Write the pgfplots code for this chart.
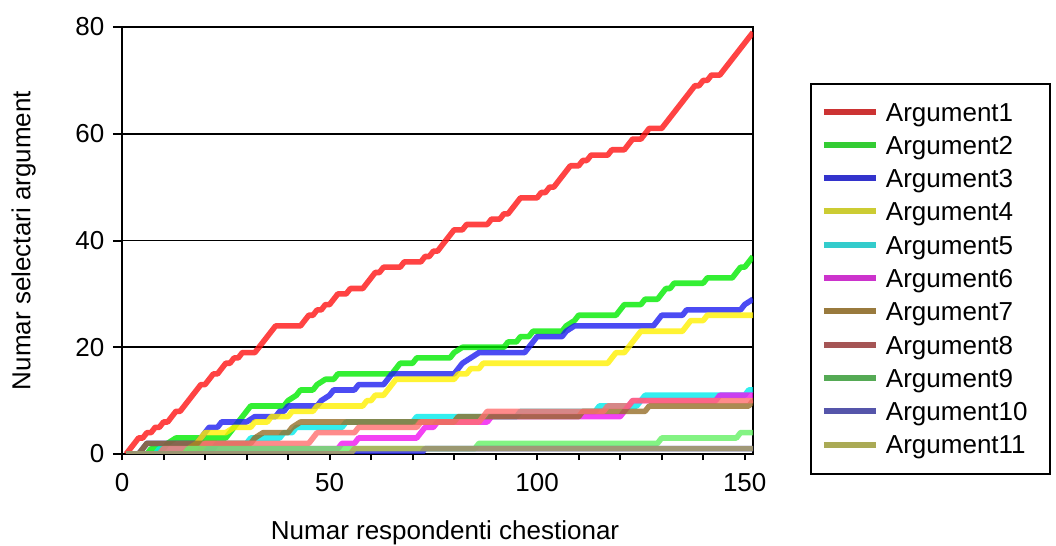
\documentclass[border=0pt]{standalone}
\usepackage{fontspec}
\setmainfont{Liberation Sans}
\usepackage{pgfplots}
\pgfplotsset{compat=1.18}
\definecolor{c1}{RGB}{255,20,20}
\definecolor{c2}{RGB}{0,235,0}
\definecolor{c3}{RGB}{30,30,240}
\definecolor{c4}{RGB}{255,240,0}
\definecolor{c5}{RGB}{0,235,235}
\definecolor{c6}{RGB}{240,20,240}
\definecolor{c7}{RGB}{150,110,40}
\definecolor{c8}{RGB}{255,110,110}
\definecolor{c9}{RGB}{100,240,100}
\definecolor{c10}{RGB}{40,40,230}
\definecolor{c11}{RGB}{180,170,90}
\definecolor{L1}{RGB}{204,51,51}
\definecolor{L2}{RGB}{51,204,51}
\definecolor{L3}{RGB}{51,51,204}
\definecolor{L4}{RGB}{204,204,51}
\definecolor{L5}{RGB}{51,204,204}
\definecolor{L6}{RGB}{204,51,204}
\definecolor{L7}{RGB}{153,122,61}
\definecolor{L8}{RGB}{165,85,85}
\definecolor{L9}{RGB}{85,170,85}
\definecolor{L10}{RGB}{85,85,170}
\definecolor{L11}{RGB}{170,170,85}
\begin{document}
\fontsize{13}{15.6}\selectfont
\begin{tikzpicture}
\path[use as bounding box] (-61pt,-46pt) rectangle (467pt,227pt);
\begin{axis}[
  at={(0,0)}, anchor=south west,
  width=315.5pt, height=213.5pt, scale only axis,
  xmin=0, xmax=152, ymin=0, ymax=80,
  xtick={0,50,100,150},
  minor xtick={10,20,30,40,60,70,80,90,110,120,130,140},
  ytick={0,20,40,60,80},
  xtick pos=bottom, ytick pos=left,
  tick align=outside,
  xtick style={/pgfplots/major tick length=3pt,/pgfplots/minor tick length=3pt,line width=1pt,black},
  ytick style={/pgfplots/major tick length=4.5pt,line width=1pt,black},
  axis line style={line width=1pt},
  ymajorgrids, grid style={black, line width=0.9pt},
  /pgf/number format/assume math mode=true,
  xticklabel style={yshift=-1pt},
  xlabel={Numar respondenti chestionar},
  ylabel={Numar selectari argument},
  xlabel style={at={(axis description cs:0.512,-0.185)}, anchor=center},
  ylabel style={at={(axis description cs:-0.156,0.5)}, anchor=center},
  legend style={at={(axis description cs:1.0903,0.8689)}, anchor=north west,
    draw=black, line width=1pt, fill=white,
    inner xsep=5pt, inner ysep=8pt, row sep=4.15pt,
    nodes={inner sep=0pt, text height=10.5pt, text depth=2pt},
    /tikz/column sep=3.5pt,
    /tikz/column 2/.style={nodes={text width=77pt, align=left}}},
  legend cell align=left,
  legend image code/.code={\draw[#1, line width=3pt] (0pt,0.5pt) -- (26pt,0.5pt);},
  ser/.style={line width=2.8pt, opacity=0.8, line join=round, forget plot},
]
\addlegendimage{L1}\addlegendentry{Argument1}
\addlegendimage{L2}\addlegendentry{Argument2}
\addlegendimage{L3}\addlegendentry{Argument3}
\addlegendimage{L4}\addlegendentry{Argument4}
\addlegendimage{L5}\addlegendentry{Argument5}
\addlegendimage{L6}\addlegendentry{Argument6}
\addlegendimage{L7}\addlegendentry{Argument7}
\addlegendimage{L8}\addlegendentry{Argument8}
\addlegendimage{L9}\addlegendentry{Argument9}
\addlegendimage{L10}\addlegendentry{Argument10}
\addlegendimage{L11}\addlegendentry{Argument11}
% Argument1
\addplot[ser, color=c1] coordinates {(1,0)(2,1)(3,2)(4,3)(5,3)(6,4)(7,4)(8,5)(9,5)(10,6)(11,6)(12,7)(13,8)(14,8)(15,9)(16,10)(17,11)(18,12)(19,13)(20,13)(21,14)(22,15)(23,15)(24,16)(25,17)(26,17)(27,18)(28,18)(29,19)(32,19)(33,20)(34,21)(35,22)(36,23)(37,24)(43,24)(44,25)(45,26)(46,26)(47,27)(48,27)(49,28)(50,28)(51,29)(52,30)(54,30)(55,31)(58,31)(59,32)(60,33)(61,34)(62,34)(63,35)(67,35)(68,36)(72,36)(73,37)(74,37)(75,38)(76,38)(77,39)(78,40)(79,41)(80,42)(82,42)(83,43)(88,43)(89,44)(91,44)(92,45)(93,45)(94,46)(95,47)(96,48)(100,48)(101,49)(102,49)(103,50)(104,50)(105,51)(106,52)(107,53)(108,54)(110,54)(111,55)(112,55)(113,56)(117,56)(118,57)(121,57)(122,58)(123,59)(125,59)(126,60)(127,61)(130,61)(131,62)(132,63)(133,64)(134,65)(135,66)(136,67)(137,68)(138,69)(139,69)(140,70)(141,70)(142,71)(144,71)(145,72)(146,73)(147,74)(148,75)(149,76)(150,77)(151,78)(152,79)};
% Argument2
\addplot[ser, color=c2] coordinates {(1,0)(6,0)(7,1)(10,1)(11,2)(13,3)(25,3)(26,4)(27,5)(28,6)(29,7)(30,8)(31,9)(39,9)(40,10)(42,11)(43,12)(46,12)(47,13)(49,14)(51,14)(52,15)(65,15)(66,16)(67,17)(70,17)(71,18)(79,18)(80,19)(82,20)(92,20)(93,21)(95,21)(96,22)(98,22)(99,23)(106,23)(107,24)(109,25)(110,26)(119,26)(120,27)(121,28)(125,28)(126,29)(129,29)(130,30)(131,31)(132,31)(133,32)(140,32)(141,33)(147,33)(148,34)(149,35)(150,35)(151,36)(152,37)};
% Argument3
\addplot[ser, color=c3] coordinates {(1,0)(4,0)(5,1)(6,2)(18,2)(19,3)(20,4)(21,5)(23,5)(24,6)(30,6)(32,7)(37,7)(38,8)(39,8)(40,9)(47,9)(48,10)(50,11)(51,12)(56,12)(57,13)(63,13)(64,14)(65,15)(80,15)(81,16)(82,17)(84,18)(86,19)(97,19)(98,20)(99,21)(100,22)(106,22)(107,23)(109,24)(128,24)(129,25)(130,26)(135,26)(136,27)(149,27)(150,28)(152,29)};
% Argument4
\addplot[ser, color=c4] coordinates {(1,0)(14,0)(16,1)(18,2)(19,3)(20,4)(25,4)(27,5)(31,5)(32,6)(35,6)(36,7)(40,7)(41,8)(46,8)(47,9)(58,9)(59,10)(60,10)(61,11)(63,11)(64,12)(65,13)(66,14)(80,14)(81,15)(83,15)(84,16)(86,16)(87,17)(117,17)(118,18)(119,19)(121,19)(122,20)(123,21)(124,22)(125,23)(135,23)(136,24)(137,25)(140,25)(141,26)(152,26)};
% Argument5
\addplot[ser, color=c5] coordinates {(1,0)(8,0)(9,1)(22,1)(23,2)(30,2)(31,3)(38,3)(39,4)(41,4)(42,5)(53,5)(54,6)(70,6)(71,7)(95,7)(96,8)(114,8)(115,9)(124,9)(125,10)(126,11)(150,11)(151,12)(152,12)};
% Argument6
\addplot[ser, color=c6] coordinates {(1,0)(18,0)(19,1)(52,1)(53,2)(56,2)(57,3)(71,3)(72,4)(73,5)(75,5)(76,6)(88,6)(89,7)(120,7)(121,8)(122,9)(123,10)(143,10)(144,11)(152,11)};
% Argument7
\addplot[ser, color=c7] coordinates {(1,0)(4,0)(5,1)(6,2)(31,2)(32,3)(34,4)(40,4)(41,5)(43,6)(80,6)(81,7)(110,7)(111,8)(126,8)(127,9)(151,9)(152,10)};
% Argument8
\addplot[ser, color=c8] coordinates {(1,0)(9,0)(10,1)(19,1)(20,2)(45,2)(46,3)(47,4)(56,4)(57,5)(71,5)(72,6)(86,6)(87,7)(88,8)(116,8)(117,9)(122,9)(123,10)(152,10)};
% Argument9
\addplot[ser, color=c9] coordinates {(1,0)(15,0)(16,1)(85,1)(86,2)(129,2)(130,3)(148,3)(149,4)(152,4)};
% Argument10
\addplot[ser, color=c10] coordinates {(1,0)(72,0)(73,1)(152,1)};
% Argument11
\addplot[ser, color=c11] coordinates {(1,0)(55,0)(56,1)(152,1)};
\end{axis}
\end{tikzpicture}
\end{document}
